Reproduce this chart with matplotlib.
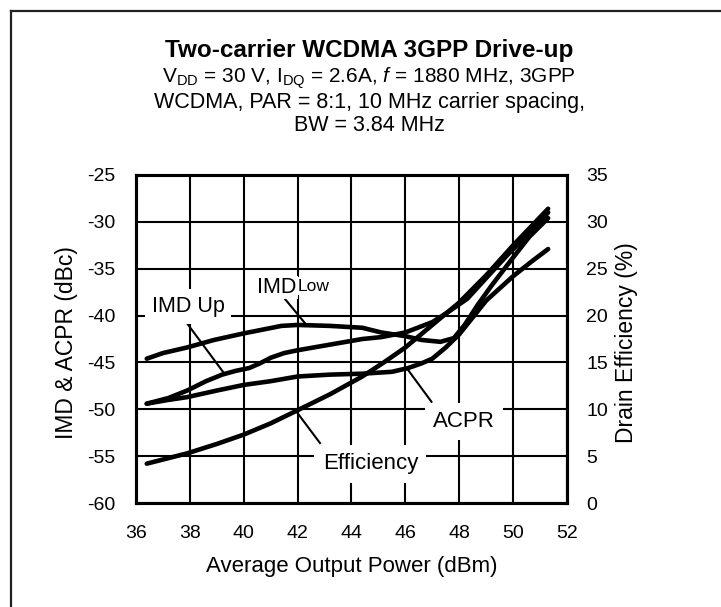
import matplotlib
matplotlib.use('Agg')
import matplotlib.pyplot as plt
from matplotlib.lines import Line2D

plt.rcParams['font.family'] = ['Liberation Sans', 'DejaVu Sans']
plt.rcParams['mathtext.fontset'] = 'custom'
plt.rcParams['mathtext.rm'] = 'Liberation Sans'
plt.rcParams['mathtext.it'] = 'Liberation Sans:italic'
plt.rcParams['axes.unicode_minus'] = False

# data
imd_low_x = [36.4, 37.0, 37.9, 38.9, 40.0, 40.7, 41.4, 42.0, 43.2, 44.4, 45.1, 46.0, 46.6, 47.3, 47.8, 48.2, 48.7, 49.2, 50.0, 50.6, 51.3]
imd_low_y = [-44.6, -44.0, -43.4, -42.6, -41.9, -41.5, -41.1, -41.0, -41.1, -41.3, -41.8, -42.2, -42.6, -42.8, -42.4, -41.0, -38.8, -36.8, -33.8, -31.6, -29.6]

imd_up_x = [36.4, 37.2, 37.9, 38.6, 39.2, 39.7, 40.2, 40.6, 41.0, 41.5, 42.0, 43.2, 44.4, 45.1, 46.0, 47.0, 47.6, 48.3, 49.0, 49.8, 50.6, 51.3]
imd_up_y = [-49.4, -48.8, -48.0, -47.0, -46.3, -45.9, -45.6, -45.1, -44.5, -44.0, -43.7, -43.1, -42.5, -42.3, -41.8, -40.7, -39.6, -38.2, -36.0, -33.5, -31.2, -29.0]

acpr_x = [36.4, 37.2, 37.9, 39.0, 40.0, 41.0, 42.0, 43.2, 44.4, 45.5, 46.1, 46.6, 47.0, 47.5, 48.0, 48.5, 49.0, 50.0, 50.7, 51.3]
acpr_y = [-49.4, -49.0, -48.7, -48.0, -47.4, -47.0, -46.5, -46.3, -46.2, -46.0, -45.6, -45.1, -44.6, -43.4, -42.0, -40.2, -38.4, -35.8, -34.2, -32.9]

eff_x = [36.4, 37.9, 39.0, 40.0, 41.0, 42.0, 43.2, 44.4, 45.2, 46.0, 47.0, 48.0, 49.0, 50.0, 50.7, 51.3]
eff_y = [4.2, 5.3, 6.3, 7.3, 8.5, 9.9, 11.6, 13.5, 15.0, 16.6, 19.0, 21.4, 24.3, 27.5, 29.6, 31.4]

x_ticks = [36, 38, 40, 42, 44, 46, 48, 50, 52]
y_ticks = [-60, -55, -50, -45, -40, -35, -30, -25]
y2_ticks = [0, 5, 10, 15, 20, 25, 30, 35]

fig = plt.figure(figsize=(7.21, 6.07), dpi=100)
ax = fig.add_axes([0.1886, 0.1713, 0.5978, 0.5404])
ax2 = ax.twinx()

# frame around the figure (only left and top edges visible)
fig.add_artist(Line2D([11 / 721, 11 / 721], [0, 1 - 11 / 607], transform=fig.transFigure, color='#222222', lw=1.6))
fig.add_artist(Line2D([11 / 721, 1], [1 - 11 / 607, 1 - 11 / 607], transform=fig.transFigure, color='#222222', lw=1.6))

ax.set_xlim(36, 52)
ax.set_ylim(-60, -25)
ax2.set_ylim(0, 35)
ax.set_xticks(x_ticks)
ax.set_yticks(y_ticks)
ax2.set_yticks(y2_ticks)
ax.grid(True, color='black', lw=1.5)
ax.set_axisbelow(True)
ax.tick_params(length=0, labelsize=14, pad=15)
ax.tick_params(axis='x', pad=16)
ax2.tick_params(length=0, labelsize=14, pad=14)
for a in (ax, ax2):
    for s in a.spines.values():
        s.set_linewidth(2.2)

lw = 3.3
ax.plot(imd_low_x, imd_low_y, color='black', lw=lw, solid_capstyle='round', solid_joinstyle='round')
ax.plot(imd_up_x, imd_up_y, color='black', lw=lw, solid_capstyle='round', solid_joinstyle='round')
ax.plot(acpr_x, acpr_y, color='black', lw=lw, solid_capstyle='round', solid_joinstyle='round')
ax2.plot(eff_x, eff_y, color='black', lw=lw, solid_capstyle='round', solid_joinstyle='round')

ax.set_xlabel('Average Output Power (dBm)', fontsize=16)
ax.xaxis.set_label_coords(0.5, -0.160)
ax.set_ylabel('IMD & ACPR (dBc)', fontsize=16.5)
ax.yaxis.set_label_coords(-0.135, 0.49)
ax2.set_ylabel('Drain Efficiency (%)', fontsize=16.5)
ax2.yaxis.set_label_coords(1.111, 0.49)

# leader lines and labels (left-axis data coordinates)
tr = ax.transData
ax2.plot([37.76, 39.23], [-40.3, -46.0], color='black', lw=1.5, transform=tr)
ax2.plot([41.35, 42.27], [-37.6, -40.8], color='black', lw=1.5, transform=tr)
ax2.plot([41.97, 42.83], [-50.3, -53.6], color='black', lw=1.5, transform=tr)
ax2.plot([46.1, 46.97], [-45.8, -49.2], color='black', lw=1.5, transform=tr)
ax2.text(37.93, -39.0, 'IMD Up', transform=tr, ha='center', va='center', fontsize=15.5, bbox=dict(fc='white', ec='none', pad=5))
ax2.text(40.5, -35.9, 'IMD', transform=tr, ha='left', va='top', fontsize=15.5, bbox=dict(fc='white', ec='none', pad=1))
ax2.text(42.0, -36.05, 'Low', transform=tr, ha='left', va='top', fontsize=12.5, bbox=dict(fc='white', ec='none', pad=1))
ax2.text(48.18, -51.3, 'ACPR', transform=tr, ha='center', va='center', fontsize=16, bbox=dict(fc='white', ec='none', pad=6))
ax2.text(44.70, -55.8, 'Efficiency', transform=tr, ha='center', va='center', fontsize=16, bbox=dict(fc='white', ec='none', pad=6))

fig.text(0.512, 1 - 50.5 / 607, 'Two-carrier WCDMA 3GPP Drive-up', ha='center', va='center', fontsize=17.5, fontweight='bold')
fig.text(0.512, 1 - 78 / 607, r'V$_{\rm DD}$ = 30 V, I$_{\rm DQ}$ = 2.6A, $f$ = 1880 MHz, 3GPP', ha='center', va='center', fontsize=15)
fig.text(0.512, 1 - 102.5 / 607, 'WCDMA, PAR = 8:1, 10 MHz carrier spacing,', ha='center', va='center', fontsize=15.5)
fig.text(0.512, 1 - 125.7 / 607, 'BW = 3.84 MHz', ha='center', va='center', fontsize=15.5)

fig.savefig('out.png', dpi=100, facecolor='white')
